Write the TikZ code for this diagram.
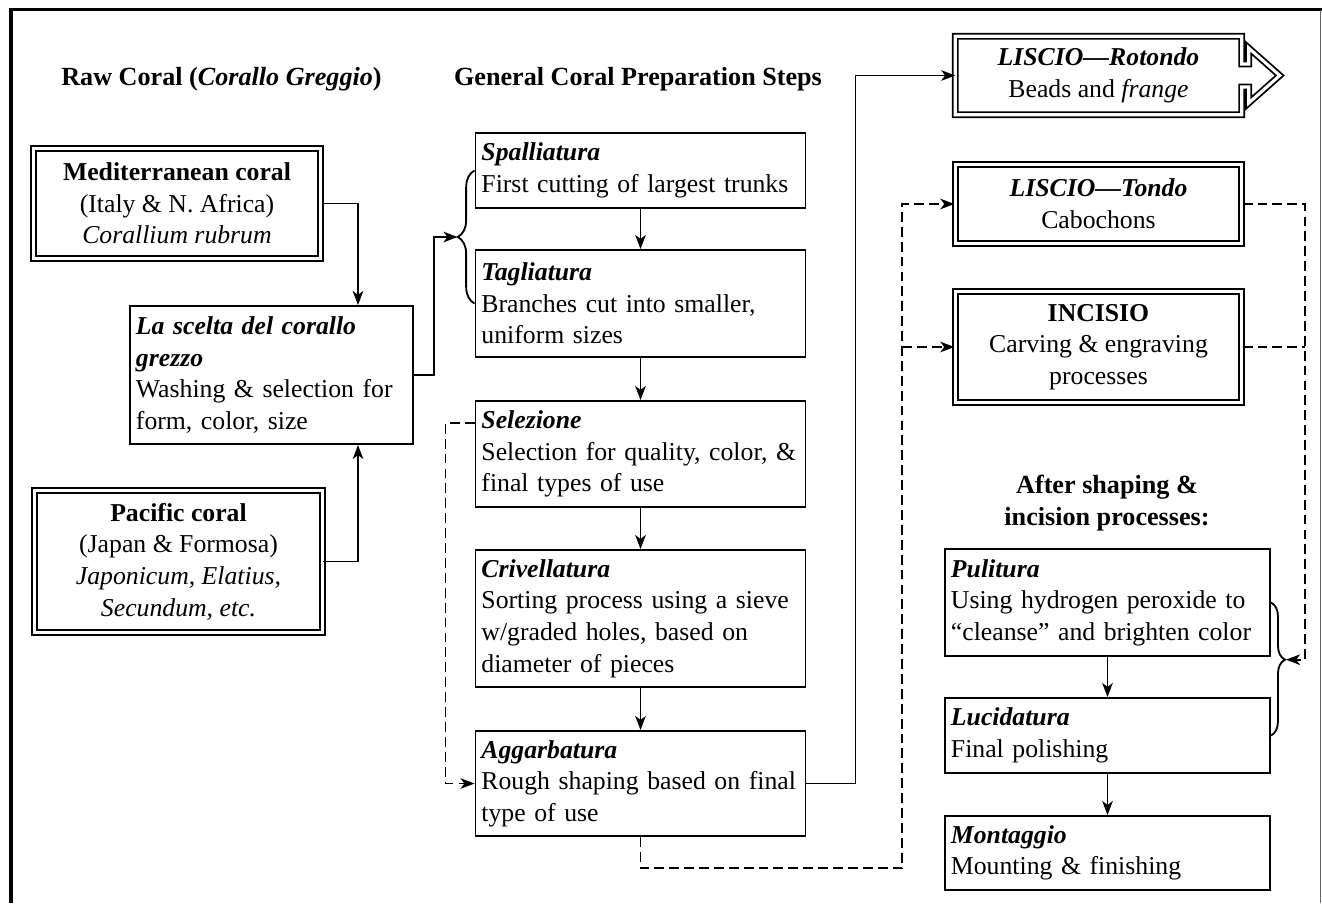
\documentclass[tikz,border=0pt]{standalone}
\usepackage{fontspec}
\setmainfont{Liberation Serif}
\usetikzlibrary{arrows.meta,calc,decorations.pathreplacing}

\begin{document}
\begin{tikzpicture}[x=0.025cm, y=-0.025cm, line width=1.3pt,
    every node/.style={font=\fontsize{18.3pt}{22.5pt}\selectfont},
    >={Stealth[length=10pt,width=7.5pt,inset=2.8pt]},
    stepbox/.style={draw, align=left, inner xsep=0.15cm, inner ysep=0pt},
    srcbox/.style={draw, double, double distance=2.2pt, align=center, minimum width=7.19cm},
    endbox/.style={draw, double, double distance=2.2pt, align=center, minimum width=7.16cm},
    heading/.style={font=\fontsize{18.6pt}{22.5pt}\selectfont\bfseries, inner sep=0pt},
    dashline/.style={dash pattern=on 7pt off 3.6pt},
    frame/.style={line width=2.2pt}]
    \useasboundingbox (0,0) rectangle (1322,903);
    \draw[frame] (11,903) -- (11,9.5) -- (1322,9.5);
    \draw[line width=0.5pt, black!60] (1320.5,9.5) -- (1320.5,903);

    \node[heading, anchor=base] (rawtitle) at (221.5,85) {Raw Coral (\textit{Corallo Greggio})};
    \node[heading, anchor=base] (steptitle) at (638,85) {General Coral Preparation Steps};
    \node[heading, align=center] (aftertitle) at (1107,503) {After shaping \&\\incision processes:};

    \node[srcbox, minimum height=2.76cm] (med) at (177,203.5)
      {\textbf{Mediterranean coral}\\(Italy \& N. Africa)\\\textit{Corallium rubrum}};
    \node[srcbox, minimum height=3.56cm] (pac) at (178.5,561.5)
      {\textbf{Pacific coral}\\(Japan \& Formosa)\\\textit{Japonicum, Elatius,}\\\textit{Secundum, etc.}};
    \node[stepbox, text width=6.775cm, minimum height=3.45cm] (scelta) at (271.5,375)
      {\textbf{\textit{La scelta del corallo}}\\\textbf{\textit{grezzo}}\\Washing \& selection for\\form, color, size};

    \node[stepbox, text width=7.95cm, minimum height=1.875cm] (spall) at (640.5,170.5)
      {\textbf{\textit{Spalliatura}}\\First cutting of largest trunks};
    \node[stepbox, text width=7.95cm, minimum height=2.675cm] (tag) at (640.5,303.5)
      {\textbf{\textit{Tagliatura}}\\Branches cut into smaller,\\uniform sizes};
    \node[stepbox, text width=7.95cm, minimum height=2.65cm] (sel) at (640.5,454)
      {\textbf{\textit{Selezione}}\\Selection for quality, color, \&\\final types of use};
    \node[stepbox, text width=7.95cm, minimum height=3.425cm] (criv) at (640.5,618.5)
      {\textbf{\textit{Crivellatura}}\\Sorting process using a sieve\\w/graded holes, based on\\diameter of pieces};
    \node[stepbox, text width=7.95cm, minimum height=2.625cm] (agg) at (640.5,783.5)
      {\textbf{\textit{Aggarbatura}}\\Rough shaping based on final\\type of use};

    \node[endbox, draw=none, outer sep=0pt, minimum height=1.9625cm] (rot) at (1098.5,75.5)
      {\textbf{\textit{LISCIO---Rotondo}}\\Beads and \textit{frange}};
    \node[endbox, minimum height=1.9875cm] (tondo) at (1098.5,204)
      {\textbf{\textit{LISCIO---Tondo}}\\Cabochons};
    \node[endbox, minimum height=2.7875cm] (inc) at (1098.5,347)
      {\textbf{INCISIO}\\Carving \& engraving\\processes};

    \node[stepbox, text width=7.825cm, minimum height=2.675cm] (pul) at (1107.5,602.5)
      {\textbf{\textit{Pulitura}}\\Using hydrogen peroxide to\\“cleanse” and brighten color};
    \node[stepbox, text width=7.825cm, minimum height=1.875cm] (luc) at (1107.5,735.5)
      {\textbf{\textit{Lucidatura}}\\Final polishing};
    \node[stepbox, text width=7.825cm, minimum height=1.85cm] (mont) at (1107.5,853)
      {\textbf{\textit{Montaggio}}\\Mounting \& finishing};

    \draw[double, double distance=2.2pt] (rot.north west) -- (rot.north east)
      -- ($(rot.east)+(0,-11.5)$) -- ++(7,0) -- ++(0,-16) -- ++(31,27.5)
      -- ++(-31,27.5) -- ++(0,-16) -- ++(-7,0) -- (rot.south east)
      -- (rot.south west) -- cycle;

    \coordinate (lbrace) at ($(tag.west)!.5!(spall.west)+(-17,0)$);
    \coordinate (rbrace) at ($(pul.east)!.43!(luc.east)+(15,0)$);

    \draw[->] (med.east) -| ($(scelta.north)+(86.5,0)$);
    \draw[->] (pac.east) -| ($(scelta.south)+(86.5,0)$);
    \draw[->] (scelta.east) -- ++(20,0) |- (lbrace);
    \draw[decorate, decoration={brace, amplitude=0.42cm}] (tag.west) -- (spall.west);
    \draw[->] (spall.south) -- (tag.north);
    \draw[->] (tag.south) -- (sel.north);
    \draw[->] (sel.south) -- (criv.north);
    \draw[->] (criv.south) -- (agg.north);
    \draw[->, dashline] ($(sel.west)+(0,-31)$) -| ($(agg.west)+(-29,0)$) -- (agg.west);
    \draw[->] (agg.east) -- ++(49,0) |- (rot.west);
    \draw[->, dashline] (agg.south) -- ++(0,31) -| ($(tondo.west)+(-52,0)$) -- (tondo.west);
    \draw[->, dashline] ($(inc.west)+(-52,0)$) -- (inc.west);
    \draw[->, dashline] (tondo.east) -- ++(62,0) |- (rbrace);
    \draw[dashline] (inc.east) -- ++(62,0);
    \draw[decorate, decoration={brace, amplitude=0.35cm, aspect=0.43}] (pul.east) -- (luc.east);
    \draw[->] (pul.south) -- (luc.north);
    \draw[->] (luc.south) -- (mont.north);
\end{tikzpicture}
\end{document}
